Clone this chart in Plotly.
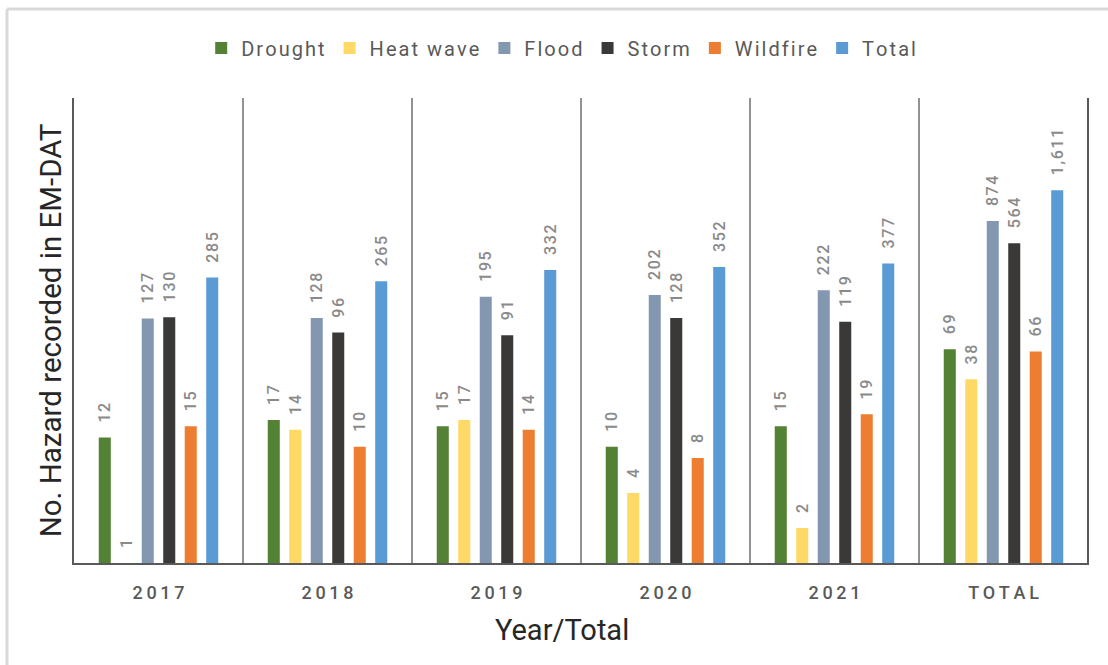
import plotly.graph_objects as go

categories = ["2017", "2018", "2019", "2020", "2021", "TOTAL"]
drought = [12, 17, 15, 10, 15, 69]
heat_wave = [1, 14, 17, 4, 2, 38]
flood = [127, 128, 195, 202, 222, 874]
storm = [130, 96, 91, 128, 119, 564]
wildfire = [15, 10, 14, 8, 19, 66]
total = [285, 265, 332, 352, 377, 1611]

series_names = ["Drought", "Heat wave", "Flood", "Storm", "Wildfire", "Total"]
series_values = [drought, heat_wave, flood, storm, wildfire, total]
colors = ["#548235", "#FFD966", "#8497B0", "#3B3838", "#ED7D31", "#5B9BD5"]

FONT = "Roboto"
HS = "\u200a"

def spaced(s, sep):
    return sep.join(list(s))

tick_text = [spaced(c, "\u2009") for c in categories]

fig = go.Figure()
for name, vals, col in zip(series_names, series_values, colors):
    labels = ["\u00a0\u00a0\u00a0" + spaced(f"{v:,}", HS) for v in vals]
    fig.add_trace(go.Bar(
        name=spaced(name, HS), x=categories, y=vals,
        marker=dict(color=col, line=dict(width=0)),
        text=labels, textposition="outside", textangle=-90,
        textfont=dict(family=FONT, size=16, color="#8a8a8a", weight=500),
        constraintext="none", cliponaxis=False,
    ))

# separators between groups
shapes = []
for i in range(len(categories) - 1):
    shapes.append(dict(type="line", xref="x", yref="paper", x0=i + 0.5, x1=i + 0.5,
                       y0=0, y1=1, line=dict(color="#262626", width=1)))
shapes.append(dict(type="line", xref="x", yref="paper", x0=len(categories) - 0.5,
                   x1=len(categories) - 0.5, y0=0, y1=1, line=dict(color="#595959", width=2)))
# outer frame (top and left edges)
shapes.append(dict(type="line", xref="paper", yref="paper", x0=(7 - 74) / 1015, x1=(1108 - 74) / 1015,
                   y0=(563 - 9) / 465, y1=(563 - 9) / 465, line=dict(color="#d9d9d9", width=3)))
shapes.append(dict(type="line", xref="paper", yref="paper", x0=(7 - 74) / 1015, x1=(7 - 74) / 1015,
                   y0=(563 - 9) / 465, y1=(563 - 670) / 465, line=dict(color="#d9d9d9", width=3)))

annotations = [dict(text="Year/Total", xref="paper", yref="paper", x=(562 - 74) / 1015,
                    y=(563 - 630) / 465, xanchor="center", yanchor="middle", showarrow=False,
                    font=dict(family=FONT, size=29, color="#262626"))]

fig.update_layout(
    width=1108, height=665,
    margin=dict(l=74, r=19, t=98, b=102),
    paper_bgcolor="white", plot_bgcolor="white",
    barmode="group", bargap=0.237, bargroupgap=0.44,
    shapes=shapes, annotations=annotations,
    legend=dict(orientation="h", x=0.48, xanchor="center", y=(563 - 48) / 465, yanchor="middle",
                font=dict(family=FONT, size=20, color="#595959"), itemwidth=30,
                traceorder="normal"),
    xaxis=dict(tickmode="array", tickvals=categories, ticktext=tick_text,
               tickfont=dict(family=FONT, size=18, color="#595959", weight=500),
               showline=True, linecolor="#595959", linewidth=2, ticks="",
               ticklabelstandoff=12, showgrid=False),
    yaxis=dict(type="log", range=[0, 4], showticklabels=False, ticks="", showgrid=False,
               zeroline=False, showline=True, linecolor="#595959", linewidth=2,
               title=dict(text="No. Hazard recorded in EM-DAT",
                          font=dict(family=FONT, size=29.5, color="#262626"), standoff=2)),
)

fig.write_html("out.html")
